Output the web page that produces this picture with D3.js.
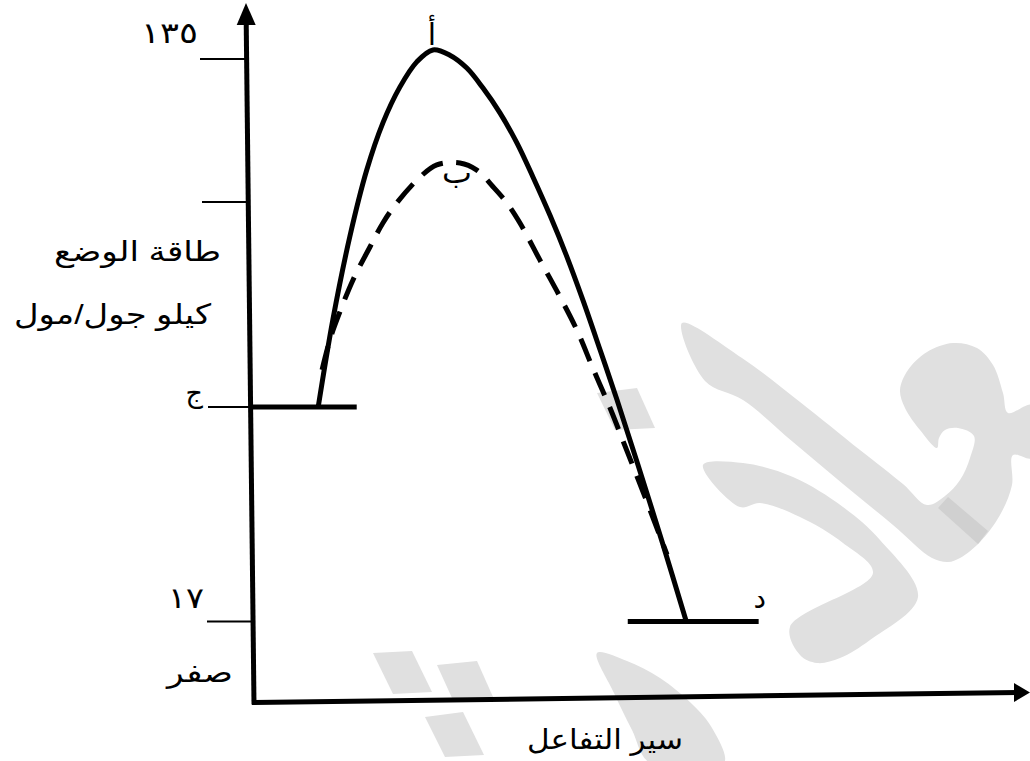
<!DOCTYPE html>
<html><head><meta charset="utf-8">
<script src="https://cdn.jsdelivr.net/npm/d3@7"></script>
<style>html,body{margin:0;padding:0;background:#fff;} svg{display:block;}</style>
</head><body>
<svg id="chart" width="1030" height="761"></svg>
<script>
// ---------- data ----------
const energyTicks = [135, 105, 62, 17];
const energyTickLabels = ["١٣٥", "", "ج", "١٧"];
const zeroLabel = "صفر";
const yTitleLines = ["طاقة الوضع", "كيلو جول/مول"];
const xTitle = "سير التفاعل";
// [reaction progress, potential energy]
const uncatalysedProgress = [8.6,10.5,12.7,14.9,17,19.2,21.4,23.5,25.7,27.9,30,32.2,34.4,36.5,38.7,40.9,43,45.2,47.4,50.1,53.3,56.4];
const uncatalysedEnergy   = [62,80.3,97.7,111.7,121.6,129.1,134.4,136.9,135.8,133.1,128.9,123.7,117.4,110.2,102.2,93.5,84.3,74,63.5,50,33.5,17];
const catalysedProgress = [9.1,10.1,11,13.1,15.3,17,18.8,21.8,24,27,29.2,31.3,33.1,34.8,37.4,40,42.2,44.3,46.5,48.4,51,53.9];
const catalysedEnergy   = [69.8,76,80.2,88.6,95.5,100.6,104.8,110.2,112.8,113.2,111.7,108.2,104.8,100.6,92.8,85.1,78.1,70,61.8,54,43.3,31];
const reactantLevel = [0, 13.6, 62];   // from, to, energy
const productLevel  = [48.8, 65.8, 17];
const pointLabels = ["أ", "ب", "د"];

// ---------- layout ----------
const svg = d3.select("#chart");
const x = d3.scaleLinear().domain([0, 100]).range([252, 1022]);
const y = d3.scaleLinear().domain([0, 135]).range([702.5, 59]);
const FONT = "'Liberation Sans', Arial, 'DejaVu Sans', sans-serif";

// ---------- watermark (decoration) ----------
const wm = svg.append("g").attr("fill", "#e0e0e0");
const curvy = d3.line().curve(d3.curveCatmullRomClosed.alpha(0.5));
const poly = d3.line().curve(d3.curveLinearClosed);
const wmCurvy = [
  [[682,323],[742,358],[800,402],[860,450],[903,484],[927,505],[945,496],[960,480],[970,458],[974,436],[958,428],[945,430],[939,438],[937,448],[920,430],[905,408],[900,390],[908,370],[927,352],[953,343],[977,348],[993,365],[1003,393],[1008,413],[1032,405],[1032,458],[1013,455],[1012,485],[1000,515],[980,542],[960,558],[948,562],[932,558],[893,525],[843,484],[793,442],[743,400],[705,381]],
  [[703,465],[743,463],[793,477],[843,507],[880,540],[918,597],[870,640],[840,658],[817,663],[800,655],[790,627],[873,573],[843,543],[800,517],[760,503],[740,507]],
  [[597,653],[627,661],[660,678],[693,705],[712,728],[724,763],[650,763],[632,730],[614,693]]
];
wmCurvy.forEach(p => wm.append("path").attr("d", curvy(p)));
const wmPoly = [
  [[373,653],[412,651],[432,692],[393,694]],
  [[437,665],[477,661],[493,697],[452,698]],
  [[425,717],[463,712],[484,755],[445,757]],
  [[597,393],[637,388],[655,428],[615,430]]
];
wmPoly.forEach(p => wm.append("path").attr("d", poly(p)));
wm.append("path").attr("d", poly([[938,508],[948,497],[988,531],[978,544]])).attr("fill", "#d0d0d0");

// ---------- axes ----------
const axisTop = 5, axisBottom = y(0);
const axisXAt = py => 246 + (py - axisTop) * (8 / (axisBottom - axisTop));
svg.append("line").attr("x1", axisXAt(22)).attr("y1", 22).attr("x2", axisXAt(axisBottom)).attr("y2", axisBottom + 2)
  .attr("stroke", "#000").attr("stroke-width", 5);
svg.append("path").attr("d", `M${axisXAt(axisTop)},${axisTop - 2} L${axisXAt(24) - 9.5},${25} L${axisXAt(24) + 9.5},${25} Z`).attr("fill", "#000");
const xAxisEnd = x(100) - 4, xAxisRise = 10;
svg.append("line").attr("x1", axisXAt(axisBottom) - 2).attr("y1", axisBottom).attr("x2", xAxisEnd).attr("y2", axisBottom - xAxisRise)
  .attr("stroke", "#000").attr("stroke-width", 5);
svg.append("path").attr("d", `M${1030},${axisBottom - xAxisRise} L${xAxisEnd - 4},${axisBottom - xAxisRise - 9.5} L${xAxisEnd - 4},${axisBottom - xAxisRise + 9.5} Z`).attr("fill", "#000");

// ticks
const tickStart = [200, 202, 208, 207];
energyTicks.forEach((e, i) => {
  svg.append("line").attr("x1", tickStart[i]).attr("x2", axisXAt(y(e))).attr("y1", y(e)).attr("y2", y(e))
    .attr("stroke", "#000").attr("stroke-width", 2);
});
const txt = (s, tx, ty, size, anchor, len) => {
  const t = svg.append("text").text(s).attr("x", tx).attr("y", ty)
    .attr("font-family", FONT).attr("font-size", size).attr("text-anchor", anchor || "end").attr("fill", "#000");
  if (len) t.attr("textLength", len).attr("lengthAdjust", "spacingAndGlyphs");
  return t;
};
txt(energyTickLabels[0], 198, y(energyTicks[0]) - 16, 29, "end", 57);
txt(energyTickLabels[2], 203, y(energyTicks[2]) - 5, 27, "end");
txt(energyTickLabels[3], 204, y(energyTicks[3]) - 13, 29, "end", 36);
txt(zeroLabel, 233, y(0) - 21, 28, "end", 66);
txt(yTitleLines[0], 221, 261, 28, "end", 167);
txt(yTitleLines[1], 211, 324, 28, "end", 197);
txt(xTitle, 683, 749, 28, "end", 156);

// ---------- energy levels ----------
[reactantLevel, productLevel].forEach(l => {
  svg.append("line").attr("x1", x(l[0])).attr("x2", x(l[1])).attr("y1", y(l[2])).attr("y2", y(l[2]))
    .attr("stroke", "#000").attr("stroke-width", 5);
});

// ---------- curves ----------
const line = d3.line().x(d => x(d[0])).y(d => y(d[1])).curve(d3.curveCatmullRom.alpha(0.5));
const solid = uncatalysedProgress.map((p, i) => [p, uncatalysedEnergy[i]]);
const dashed = catalysedProgress.map((p, i) => [p, catalysedEnergy[i]]);
svg.append("path").attr("d", line(dashed)).attr("fill", "none").attr("stroke", "#000")
  .attr("stroke-width", 5).attr("stroke-dasharray", "24,13");
svg.append("path").attr("d", line(solid)).attr("fill", "none").attr("stroke", "#000").attr("stroke-width", 5);

// ---------- point labels ----------
const peakA = solid[d3.maxIndex(solid, d => d[1])];
const peakB = dashed[d3.maxIndex(dashed, d => d[1])];
txt(pointLabels[0], x(peakA[0]) - 1, y(peakA[1]) - 5, 30, "middle");
txt(pointLabels[1], x(peakB[0]) - 3, y(peakB[1]) + 20, 30, "middle", 30);
txt(pointLabels[2], x(productLevel[1]) + 1, y(productLevel[2]) - 13, 28, "middle");
</script>
</body></html>
